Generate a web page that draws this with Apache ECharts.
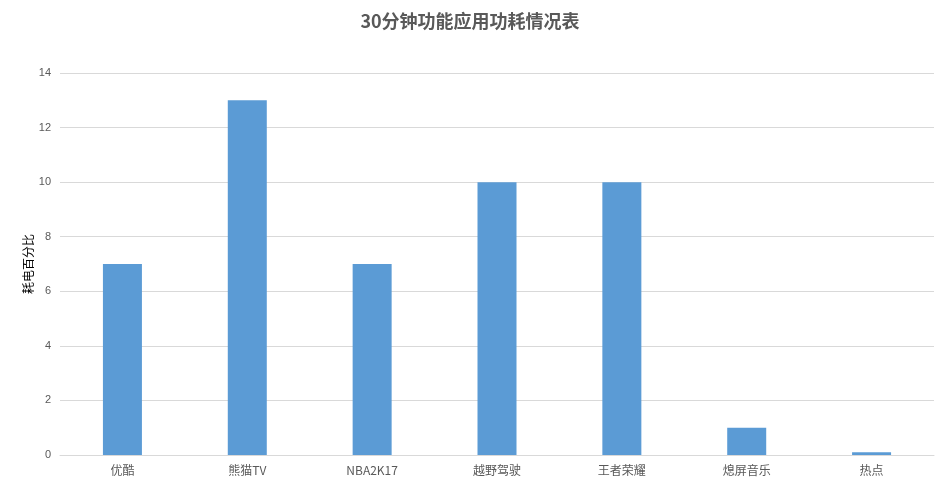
<!DOCTYPE html>
<html>
<head>
<meta charset="utf-8">
<script src="https://cdn.jsdelivr.net/npm/echarts@6/dist/echarts.min.js"></script>
<style>
  html, body { margin: 0; padding: 0; background: #fff; }
  #main { width: 940px; height: 493px; }
</style>
</head>
<body>
<div id="main"></div>
<script>
var categories = ['优酷', '熊猫TV', 'NBA2K17', '越野驾驶', '王者荣耀', '熄屏音乐', '热点'];
var powerPercent = [7, 13, 7, 10, 10, 1, 0.1];

var chart = echarts.init(document.getElementById('main'));
var option = {
  title: {
    text: '30分钟功能应用功耗情况表',
    left: 'center',
    top: 7,
    textStyle: {
      color: '#595959',
      fontSize: 18,
      fontWeight: 'bold',
      fontFamily: 'Noto Sans CJK SC'
    }
  },
  grid: {
    left: 60,
    right: 6,
    top: 73,
    bottom: 38
  },
  xAxis: {
    type: 'category',
    data: categories,
    axisTick: { show: false },
    axisLine: { lineStyle: { color: '#d9d9d9' } },
    axisLabel: {
      color: '#595959',
      fontSize: 12,
      margin: 9,
      fontFamily: 'Noto Sans CJK SC'
    }
  },
  yAxis: {
    type: 'value',
    min: 0,
    max: 14,
    interval: 2,
    name: '耗电百分比',
    nameLocation: 'middle',
    nameGap: 26,
    nameMoveOverlap: false,
    nameTextStyle: {
      color: '#000',
      fontSize: 12,
      fontFamily: 'Noto Sans CJK SC'
    },
    axisLine: { show: false },
    axisTick: { show: false },
    axisLabel: {
      color: '#595959',
      fontSize: 11,
      margin: 9
    },
    splitLine: { lineStyle: { color: '#d9d9d9' } }
  },
  series: [{
    type: 'bar',
    data: powerPercent,
    barWidth: 39,
    itemStyle: { color: '#5b9bd5' }
  }]
};
chart.setOption(option);
</script>
</body>
</html>
